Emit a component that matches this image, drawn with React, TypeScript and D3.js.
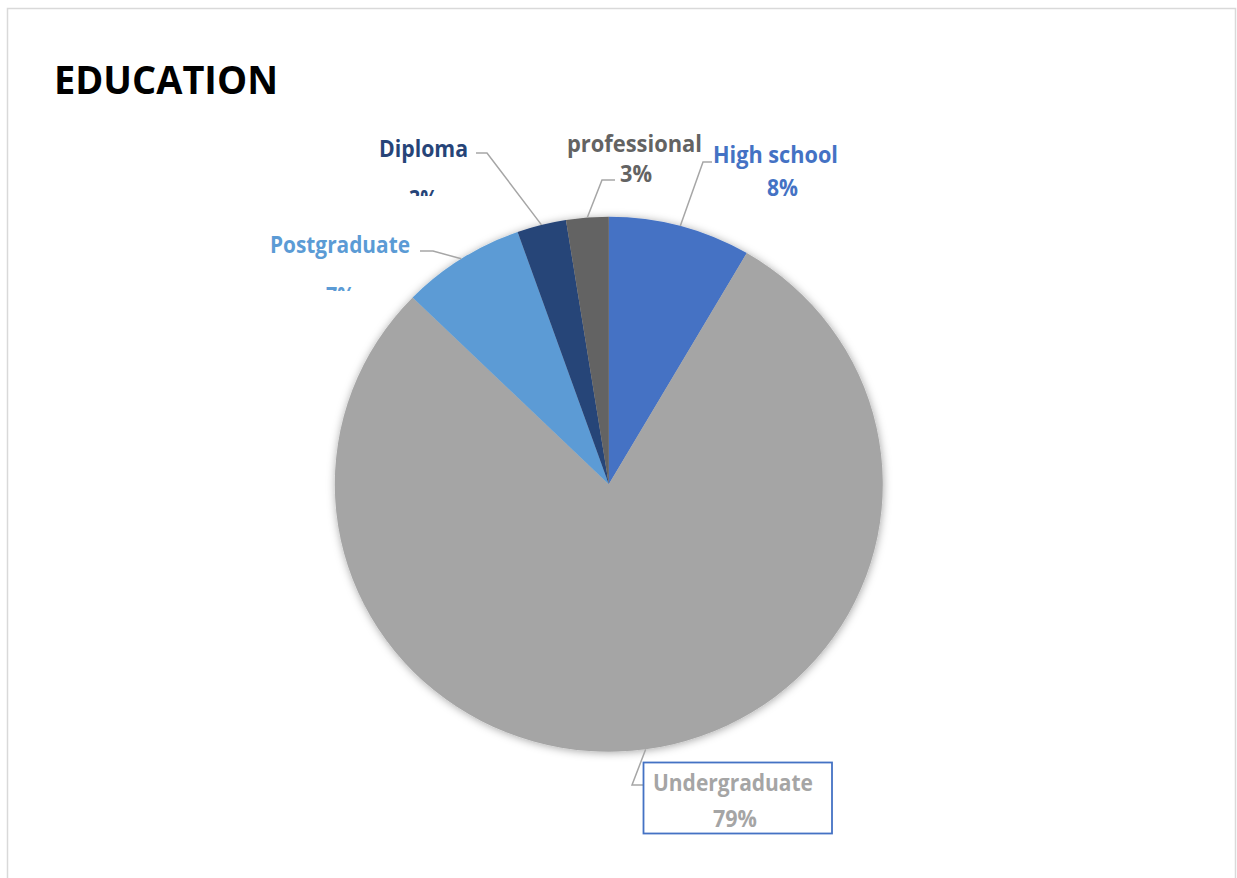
import React from "react";
import * as d3 from "d3";

const categories = ["High school", "Undergraduate", "Postgraduate", "Diploma", "professional"];
const values = [8.4, 78.9, 7.3, 2.9, 2.5];
const palette = ["#4472C4", "#A5A5A5", "#5B9BD5", "#264478", "#636363"];
const title = "EDUCATION";

const W = 1237;
const H = 878;
const CX = 608.8;
const CY = 484.2;
const R = 274;
const SY = 267.5 / 274;
const FONT = "'Open Sans', Lato, 'DejaVu Sans', sans-serif";

// label layout (text positions, elbow of leader)
type Lay = {
  l1: { x: number; y: number; w: number };
  l2: { x: number; y: number; w: number };
  clip?: number;
  elbow: [number, number];
  end: [number, number];
};
const layout: Lay[] = [
  { l1: { x: 713, y: 163, w: 125 }, l2: { x: 767, y: 196, w: 31 }, elbow: [703, 162], end: [712, 162] },
  { l1: { x: 653, y: 791, w: 160 }, l2: { x: 713, y: 827, w: 44 }, elbow: [632, 785], end: [643, 785] },
  { l1: { x: 270, y: 253, w: 140 }, l2: { x: 326, y: 304, w: 29 }, clip: 291, elbow: [433, 251], end: [420, 251] },
  { l1: { x: 379, y: 157, w: 89 }, l2: { x: 409, y: 207, w: 29 }, clip: 196, elbow: [487, 153], end: [476, 153] },
  { l1: { x: 567, y: 152, w: 135 }, l2: { x: 620, y: 182, w: 32 }, elbow: [602, 180], end: [615, 180] },
];

export default function App() {
  const total = d3.sum(values);
  const pie = d3
    .pie<number>()
    .sort(null)
    .value((d) => d)
    .startAngle(0)
    .endAngle(2 * Math.PI);
  const arcs = pie(values);
  const arc = d3.arc<d3.PieArcDatum<number>>().innerRadius(0).outerRadius(R);

  const anchor = (a: d3.PieArcDatum<number>): [number, number] => {
    const m = (a.startAngle + a.endAngle) / 2;
    return [CX + R * Math.sin(m), CY - R * SY * Math.cos(m)];
  };

  return (
    <div style={{ position: "fixed", left: 0, top: 0, width: W, height: H, background: "#fff" }}>
      <svg width={W} height={H} style={{ display: "block" }}>
        <defs>
          <filter id="shadow" x="-20%" y="-20%" width="140%" height="140%">
            <feDropShadow dx="0.5" dy="1" stdDeviation="4.5" floodColor="#000" floodOpacity="0.35" />
          </filter>
          {layout.map((l, i) =>
            l.clip !== undefined ? (
              <clipPath id={`clip${i}`} key={i}>
                <rect x={0} y={0} width={W} height={l.clip} />
              </clipPath>
            ) : null
          )}
        </defs>
        <rect x={7.5} y={8.5} width={1228} height={H + 20} fill="#fff" stroke="#D9D9D9" strokeWidth={1.5} />
        <text
          x={54}
          y={94}
          fontFamily={FONT}
          fontWeight={700}
          fontSize={39}
          fill="#000"
          textLength={224}
          lengthAdjust="spacingAndGlyphs"
        >
          {title}
        </text>

        <g filter="url(#shadow)">
          <g transform={`translate(${CX},${CY}) scale(1,${SY})`}>
            {arcs.map((a, i) => (
              <path key={i} d={arc(a) || ""} fill={palette[i]} />
            ))}
          </g>
        </g>

        {arcs.map((a, i) => {
          const l = layout[i];
          const p = anchor(a);
          const pts: [number, number][] = [p, l.elbow, l.end];
          const line = d3.line()(pts) || "";
          return <path key={`ll${i}`} d={line} fill="none" stroke="#A6A6A6" strokeWidth={1.5} />;
        })}

        {/* Undergraduate label box */}
        <rect x={643.5} y={762.5} width={188.5} height={71} fill="none" stroke="#4472C4" strokeWidth={1.8} />

        {arcs.map((a, i) => {
          const l = layout[i];
          const pct = `${Math.round((a.value / total) * 100)}%`;
          return (
            <g key={`lb${i}`} fontFamily={FONT} fontWeight={700} fontSize={22.5} fill={palette[i]}>
              <text x={l.l1.x} y={l.l1.y} textLength={l.l1.w} lengthAdjust="spacingAndGlyphs">
                {categories[i]}
              </text>
              <g clipPath={l.clip !== undefined ? `url(#clip${i})` : undefined}>
                <text x={l.l2.x} y={l.l2.y} textLength={l.l2.w} lengthAdjust="spacingAndGlyphs">
                  {pct}
                </text>
              </g>
            </g>
          );
        })}
      </svg>
    </div>
  );
}
